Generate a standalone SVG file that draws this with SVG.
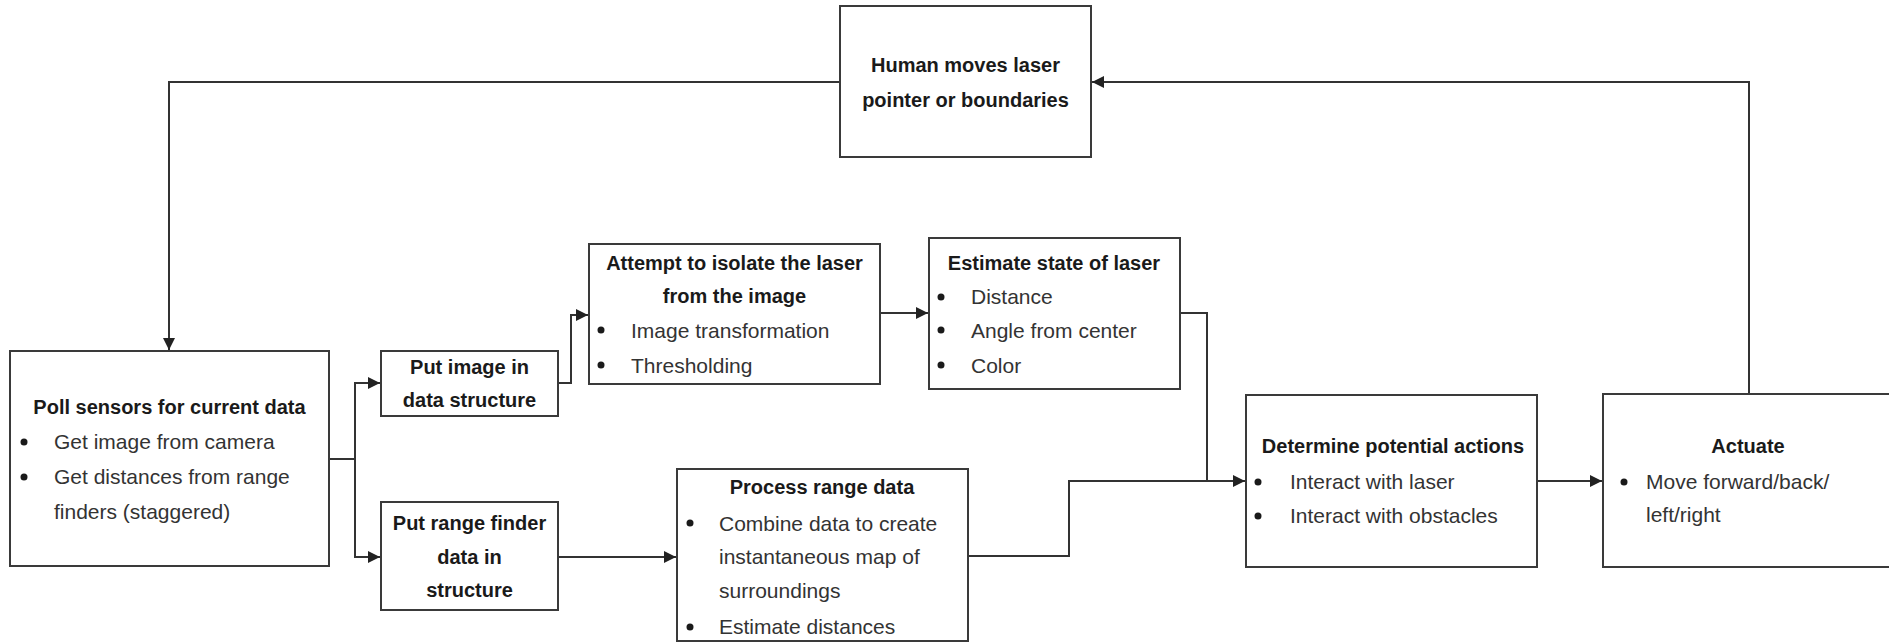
<svg xmlns="http://www.w3.org/2000/svg" width="1889" height="643" viewBox="0 0 1889 643">
  <defs>
    <marker id="arr" markerUnits="userSpaceOnUse" markerWidth="13" markerHeight="13" refX="12" refY="6" orient="auto">
      <path d="M0,0 L12,6 L0,12 z" fill="#222"/>
    </marker>
    <style>
      .box { fill: #fff; stroke: #3a3a3a; stroke-width: 2; }
      .t { font-family: "Liberation Sans", Arial, sans-serif; font-weight: bold; font-size: 20px; fill: #1a1a1a; text-anchor: middle; }
      .b { font-family: "Liberation Sans", Arial, sans-serif; font-size: 21px; fill: #333; }
      .dot { fill: #1a1a1a; }
      .c { fill: none; stroke: #333; stroke-width: 2; }
      .ca { fill: none; stroke: #333; stroke-width: 2; marker-end: url(#arr); }
    </style>
  </defs>
  <rect width="1889" height="643" fill="#fff"/>

  <g id="connectors">
    <path class="ca" d="M840,82 H169 V350"/>
    <path class="ca" d="M329,459 H355 V383 H380"/>
    <path class="ca" d="M355,459 V557 H380"/>
    <path class="ca" d="M558,383 H571 V315 H588"/>
    <path class="ca" d="M880,313 H928"/>
    <path class="ca" d="M1180,313 H1207 V481 H1245"/>
    <path class="ca" d="M558,557 H676"/>
    <path class="c" d="M968,556 H1069 V481 H1207"/>
    <path class="ca" d="M1537,481 H1602"/>
    <path class="ca" d="M1749,394 V82 H1092"/>
  </g>

  <g id="human">
    <rect class="box" x="840" y="6" width="251" height="151"/>
    <text class="t" x="965.5" y="72">Human moves laser</text>
    <text class="t" x="965.5" y="107">pointer or boundaries</text>
  </g>

  <g id="poll">
    <rect class="box" x="10" y="351" width="319" height="215"/>
    <text class="t" x="169.5" y="414">Poll sensors for current data</text>
    <circle class="dot" cx="24" cy="442" r="3.5"/>
    <text class="b" x="54" y="449">Get image from camera</text>
    <circle class="dot" cx="24" cy="477" r="3.5"/>
    <text class="b" x="54" y="484">Get distances from range</text>
    <text class="b" x="54" y="519">finders (staggered)</text>
  </g>

  <g id="put-image">
    <rect class="box" x="381" y="351" width="177" height="65"/>
    <text class="t" x="469.5" y="374">Put image in</text>
    <text class="t" x="469.5" y="407">data structure</text>
  </g>

  <g id="put-range">
    <rect class="box" x="381" y="502" width="177" height="108"/>
    <text class="t" x="469.5" y="530">Put range finder</text>
    <text class="t" x="469.5" y="564">data in</text>
    <text class="t" x="469.5" y="597">structure</text>
  </g>

  <g id="attempt">
    <rect class="box" x="589" y="244" width="291" height="140"/>
    <text class="t" x="734.5" y="270">Attempt to isolate the laser</text>
    <text class="t" x="734.5" y="303">from the image</text>
    <circle class="dot" cx="601" cy="330" r="3.5"/>
    <text class="b" x="631" y="337.5">Image transformation</text>
    <circle class="dot" cx="601" cy="365" r="3.5"/>
    <text class="b" x="631" y="372.5">Thresholding</text>
  </g>

  <g id="estimate">
    <rect class="box" x="929" y="238" width="251" height="151"/>
    <text class="t" x="1054" y="270">Estimate state of laser</text>
    <circle class="dot" cx="941" cy="297" r="3.5"/>
    <text class="b" x="971" y="304">Distance</text>
    <circle class="dot" cx="941" cy="330" r="3.5"/>
    <text class="b" x="971" y="337.5">Angle from center</text>
    <circle class="dot" cx="941" cy="365" r="3.5"/>
    <text class="b" x="971" y="372.5">Color</text>
  </g>

  <g id="process">
    <rect class="box" x="677" y="469" width="291" height="172"/>
    <text class="t" x="822" y="494">Process range data</text>
    <circle class="dot" cx="690" cy="523" r="3.5"/>
    <text class="b" x="719" y="531">Combine data to create</text>
    <text class="b" x="719" y="564">instantaneous map of</text>
    <text class="b" x="719" y="598">surroundings</text>
    <circle class="dot" cx="690" cy="627" r="3.5"/>
    <text class="b" x="719" y="634">Estimate distances</text>
  </g>

  <g id="determine">
    <rect class="box" x="1246" y="395" width="291" height="172"/>
    <text class="t" x="1393" y="453">Determine potential actions</text>
    <circle class="dot" cx="1258" cy="482" r="3.5"/>
    <text class="b" x="1290" y="489">Interact with laser</text>
    <circle class="dot" cx="1258" cy="516" r="3.5"/>
    <text class="b" x="1290" y="523">Interact with obstacles</text>
  </g>

  <g id="actuate">
    <rect class="box" x="1603" y="394" width="300" height="173"/>
    <text class="t" x="1748" y="453">Actuate</text>
    <circle class="dot" cx="1624" cy="482" r="3.5"/>
    <text class="b" x="1646" y="489">Move forward/back/</text>
    <text class="b" x="1646" y="522">left/right</text>
  </g>
</svg>
